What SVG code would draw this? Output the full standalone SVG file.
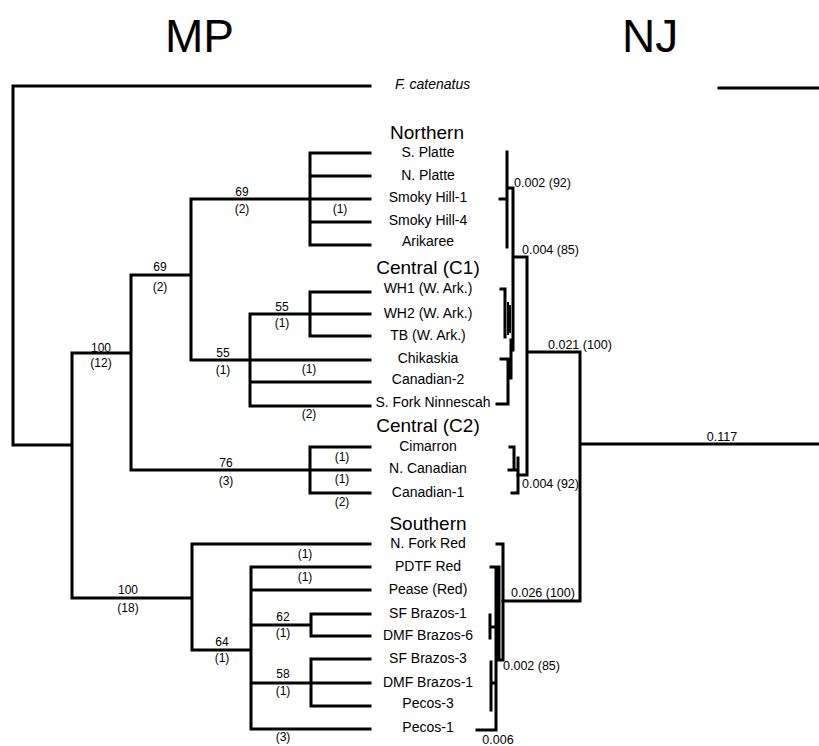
<svg xmlns="http://www.w3.org/2000/svg" width="819" height="746" viewBox="0 0 819 746">
<style>
text{font-family:"Liberation Sans",Arial,sans-serif;fill:#000}
.tip{font-size:14px;text-anchor:middle}
.head{font-size:19px;text-anchor:middle}
.bs{font-size:12px;text-anchor:middle}
.nj{font-size:12.5px}
.title{font-size:46px}
.ln{fill:none;stroke:#000;stroke-width:3;stroke-linecap:square}
.thin{fill:none;stroke:#000;stroke-width:2;stroke-linecap:square}
</style>
<rect width="819" height="746" fill="#fff"/>
<g id="titles">
<text class="title" x="165" y="52">MP</text>
<text class="title" x="622" y="52">NJ</text>
</g>
<g id="connectors">
<path class="ln" d="M13 86V445M13 86H370M13 445H72M72 353V598M72 353H131M131 275V470M131 275H191M131 470H370M191 199V360M191 199H370M310 153V245M310 153H370M310 176H370M310 222H370M310 245H370M191 360H370M250 314V406M250 314H370M310 292V336M310 292H370M310 336H370M250 382H370M250 406H370M310 447V493M310 447H370M310 493H370M72 598H192M192 544V650M192 544H370M192 650H251M251 567V729M251 567H370M251 590H370M251 729H370M251 625H311M311 614V636M311 614H370M311 636H370M251 683H370M311 659V706M311 659H370M311 706H370"/>
<path class="ln" d="M719 88H819M507 152V247M500 199H507M507 188H513M513 188V350M513 257H527M527 257V475M518 475H527M527 352H580M580 352V601M580 444H819M503 601H580"/>
<path class="ln" d="M501 289H505M505 289V337M511 340V378M501 359H508M508 359V404M497 404H508"/>
<path class="thin" d="M508 303V334M510 306V332"/>
<path class="ln" d="M510 447H514M514 447V470M509 470H518M518 458V493M512 493H518"/>
<path class="ln" d="M497 544H503M503 544V660M498 660H503M491 567H496M496 567V730M499 567V660M490 627H496M490 615V638M491 683H496M491 662V710M477 730H496"/>
</g>
<g id="outgroup"><text x="395" y="89" font-size="14" font-style="italic">F. catenatus</text></g>
<g id="northern">
<text class="head" x="427" y="139">Northern</text>
<g id="s-platte"><text class="tip" x="428" y="157">S. Platte</text></g>
<g id="n-platte"><text class="tip" x="428" y="180">N. Platte</text></g>
<g id="smoky-hill-1"><text class="tip" x="428" y="202">Smoky Hill-1</text></g>
<g id="smoky-hill-4"><text class="tip" x="428" y="225">Smoky Hill-4</text></g>
<g id="arikaree"><text class="tip" x="428" y="246">Arikaree</text></g>
</g>
<g id="central-c1">
<text class="head" x="428" y="274">Central (C1)</text>
<g id="wh1"><text class="tip" x="428" y="293">WH1 (W. Ark.)</text></g>
<g id="wh2"><text class="tip" x="428" y="318">WH2 (W. Ark.)</text></g>
<g id="tb"><text class="tip" x="428" y="340">TB (W. Ark.)</text></g>
<g id="chikaskia"><text class="tip" x="428" y="363">Chikaskia</text></g>
<g id="canadian-2"><text class="tip" x="428" y="384">Canadian-2</text></g>
<g id="s-fork-ninnescah"><text class="tip" x="433" y="407">S. Fork Ninnescah</text></g>
</g>
<g id="central-c2">
<text class="head" x="428" y="432">Central (C2)</text>
<g id="cimarron"><text class="tip" x="428" y="451">Cimarron</text></g>
<g id="n-canadian"><text class="tip" x="428" y="473">N. Canadian</text></g>
<g id="canadian-1"><text class="tip" x="428" y="497">Canadian-1</text></g>
</g>
<g id="southern">
<text class="head" x="428" y="530">Southern</text>
<g id="n-fork-red"><text class="tip" x="428" y="548">N. Fork Red</text></g>
<g id="pdtf-red"><text class="tip" x="428" y="571">PDTF Red</text></g>
<g id="pease-red"><text class="tip" x="428" y="594">Pease (Red)</text></g>
<g id="sf-brazos-1"><text class="tip" x="428" y="618">SF Brazos-1</text></g>
<g id="dmf-brazos-6"><text class="tip" x="428" y="640">DMF Brazos-6</text></g>
<g id="sf-brazos-3"><text class="tip" x="428" y="663">SF Brazos-3</text></g>
<g id="dmf-brazos-1"><text class="tip" x="428" y="687">DMF Brazos-1</text></g>
<g id="pecos-3"><text class="tip" x="428" y="708">Pecos-3</text></g>
<g id="pecos-1"><text class="tip" x="428" y="732">Pecos-1</text></g>
</g>
<g id="mp-support">
<text class="bs" x="101" y="352">100</text><text class="bs" x="101" y="367">(12)</text>
<text class="bs" x="160" y="271">69</text><text class="bs" x="160" y="291">(2)</text>
<text class="bs" x="242" y="196">69</text><text class="bs" x="242" y="213">(2)</text>
<text class="bs" x="340" y="213">(1)</text>
<text class="bs" x="282" y="311">55</text><text class="bs" x="282" y="327">(1)</text>
<text class="bs" x="223" y="357">55</text><text class="bs" x="223" y="374">(1)</text>
<text class="bs" x="309" y="373">(1)</text>
<text class="bs" x="309" y="418">(2)</text>
<text class="bs" x="226" y="467">76</text><text class="bs" x="226" y="485">(3)</text>
<text class="bs" x="342" y="461">(1)</text><text class="bs" x="342" y="483">(1)</text><text class="bs" x="342" y="506">(2)</text>
<text class="bs" x="128" y="594">100</text><text class="bs" x="128" y="612">(18)</text>
<text class="bs" x="305" y="558">(1)</text><text class="bs" x="305" y="581">(1)</text>
<text class="bs" x="222" y="646">64</text><text class="bs" x="222" y="662">(1)</text>
<text class="bs" x="283" y="621">62</text><text class="bs" x="283" y="637">(1)</text>
<text class="bs" x="283" y="678">58</text><text class="bs" x="283" y="695">(1)</text>
<text class="bs" x="283" y="741">(3)</text>
</g>
<g id="nj-support">
<text class="nj" x="514" y="187">0.002 (92)</text>
<text class="nj" x="522" y="254">0.004 (85)</text>
<text class="nj" x="548" y="349">0.021 (100)</text>
<text class="nj" x="722" y="441" text-anchor="middle">0.117</text>
<text class="nj" x="522" y="488">0.004 (92)</text>
<text class="nj" x="511" y="597">0.026 (100)</text>
<text class="nj" x="503" y="670">0.002 (85)</text>
<text class="nj" x="498" y="744" text-anchor="middle">0.006</text>
</g>
</svg>
